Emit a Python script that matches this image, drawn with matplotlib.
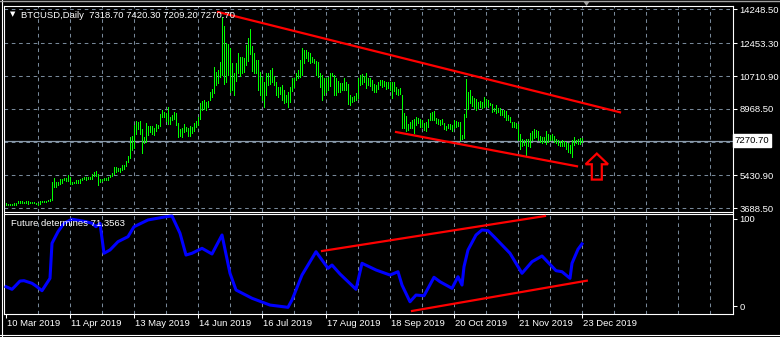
import numpy as np
import pandas as pd
import matplotlib
matplotlib.use("Agg")
import matplotlib.pyplot as plt
from matplotlib.patches import Polygon
from matplotlib.lines import Line2D
from matplotlib.transforms import blended_transform_factory, offset_copy

plt.rcParams['font.family'] = ['Liberation Sans', 'DejaVu Sans']

# daily highs / lows, 10 Mar 2019 .. 23 Dec 2019
mar_hi = [3950, 3930, 3940, 3920, 3960, 3990, 4080, 4060, 4050, 4040, 4080, 4090, 4020, 4010, 4020, 3990, 3980, 4100, 4080, 4070, 4100, 4110]
mar_lo = [3870, 3850, 3850, 3850, 3860, 3880, 3960, 3980, 3970, 3980, 3970, 3930, 3950, 3960, 3950, 3900, 3880, 3920, 4000, 4000, 4030, 4050]
apr_hi = [4160, 5080, 5300, 5080, 5070, 5230, 5250, 5300, 5280, 5470, 5360, 5100, 5100, 5180, 5200, 5250, 5320, 5340, 5350, 5340, 5350, 5500, 5600, 5650, 5520, 5250, 5270, 5280, 5300, 5350]
apr_lo = [4100, 4130, 4800, 4820, 4920, 5000, 5050, 5180, 5150, 5150, 4970, 4980, 5050, 5030, 5030, 5030, 5180, 5240, 5200, 5260, 5250, 5260, 5380, 5420, 4950, 5080, 5150, 5200, 5180, 5200]
may_hi = [5450, 5560, 5900, 5900, 5830, 5830, 6000, 6000, 6200, 6450, 7450, 7550, 8100, 8300, 8250, 8300, 7900, 7500, 8200, 8050, 8050, 8050, 7950, 8150, 8100, 8700, 8900, 8800, 8750, 9050, 8550]
may_lo = [5340, 5380, 5500, 5600, 5650, 5600, 5720, 5750, 5950, 6150, 6350, 6800, 6900, 7650, 7900, 7650, 6600, 7150, 7200, 7600, 7750, 7650, 7600, 7800, 7950, 8050, 8550, 8550, 8350, 8150, 8150]
jun_hi = [8650, 8800, 8750, 8200, 7900, 7950, 8150, 8000, 7950, 8050, 8000, 8200, 8300, 8550, 9300, 9400, 9450, 9350, 9400, 9850, 10000, 11180, 10950, 11050, 11450, 13850, 13350, 12450, 12400, 12200]
jun_lo = [8400, 8450, 8100, 7500, 7550, 7500, 7750, 7800, 7550, 7550, 7700, 7800, 8000, 8100, 8450, 8900, 8950, 8900, 9050, 9450, 9600, 9800, 10250, 10350, 10650, 10750, 10300, 10400, 10750, 9850]
jul_hi = [11400, 10900, 11400, 11950, 11700, 11700, 11650, 12350, 12750, 13200, 12300, 11950, 11550, 11550, 10950, 10650, 10380, 10900, 10900, 11050, 11150, 10700, 10380, 10120, 10120, 10220, 9960, 9690, 9850, 10120, 10600]
jul_lo = [9950, 9700, 10450, 10850, 10700, 10850, 10950, 11300, 11500, 11900, 11000, 10850, 10850, 9950, 9690, 9420, 9060, 9690, 10220, 10300, 10380, 10220, 9690, 9590, 9750, 9450, 9270, 9320, 9050, 9320, 9900]
aug_hi = [10600, 10900, 11050, 11550, 12200, 12100, 12100, 12000, 11950, 11700, 11600, 11500, 11450, 10900, 10750, 10600, 10600, 10650, 10900, 10900, 10750, 10600, 10450, 10350, 10350, 10600, 10400, 10300, 9700, 9600, 9650]
aug_lo = [10120, 10490, 10600, 10650, 10750, 11400, 11650, 11500, 11400, 11480, 11400, 10750, 10650, 10120, 9420, 9700, 9850, 9950, 10200, 10700, 9700, 9690, 9850, 9850, 9950, 9950, 9960, 9250, 9200, 9330, 9400]
sep_hi = [9800, 10600, 10750, 10800, 10700, 10860, 10600, 10600, 10490, 10300, 10220, 10400, 10500, 10500, 10450, 10380, 10380, 10380, 10380, 10420, 10150, 10000, 10060, 9700, 8750, 8600, 8150, 8250, 8360, 8450]
sep_lo = [9450, 9530, 10220, 10300, 10380, 10060, 10220, 10170, 9960, 9850, 9850, 10000, 10220, 10120, 10170, 10000, 10060, 9960, 9530, 9900, 9750, 9690, 9750, 7950, 7950, 7800, 7830, 7940, 7950, 7680]
oct_hi = [8520, 8470, 8420, 8360, 8200, 8250, 8420, 8740, 8800, 8840, 8500, 8450, 8400, 8450, 8230, 8080, 8170, 8150, 8100, 8360, 8350, 8250, 8250, 7560, 8720, 10540, 9850, 9950, 9640, 9570, 9480]
oct_lo = [8100, 8200, 7990, 7990, 7830, 7780, 7990, 8360, 8360, 8360, 8200, 8150, 8100, 8150, 7880, 7830, 7930, 7880, 7780, 7940, 8000, 8050, 7300, 7360, 7420, 8520, 8950, 9270, 9110, 9000, 8900]
nov_hi = [9320, 9370, 9320, 9580, 9480, 9430, 9260, 9210, 9000, 9160, 9000, 9000, 8900, 8890, 8840, 8630, 8520, 8250, 8250, 8200, 8150, 7620, 7370, 7300, 7360, 7360, 7680, 7780, 7890, 7830]
nov_lo = [9000, 9050, 9000, 9050, 9100, 9050, 9150, 8790, 8840, 8740, 8800, 8640, 8640, 8520, 8360, 8380, 8250, 7990, 7990, 7940, 7300, 6820, 7000, 7050, 6530, 6990, 6930, 7300, 7400, 7460]
dec_hi = [7800, 7520, 7480, 7500, 7780, 7650, 7600, 7650, 7550, 7350, 7300, 7250, 7300, 7250, 7200, 7140, 7050, 7300, 7460, 7300, 7350, 7400, 7420.3]
dec_lo = [7300, 7200, 7170, 7190, 7090, 7200, 7320, 7300, 7190, 7140, 7040, 7000, 7010, 7000, 6850, 6700, 6600, 6400, 7040, 7150, 7100, 7130, 7209.2]

highs = np.array(mar_hi + apr_hi + may_hi + jun_hi + jul_hi + aug_hi + sep_hi + oct_hi + nov_hi + dec_hi)
lows = np.array(mar_lo + apr_lo + may_lo + jun_lo + jul_lo + aug_lo + sep_lo + oct_lo + nov_lo + dec_lo)
days = np.arange(len(highs))
last_price = 7270.70

# indicator "Future determines" (day index, value)
ind_day = [0, 3, 4, 7, 9, 13, 15, 18, 22, 23, 26, 29, 33, 40, 43, 45, 47, 49, 52, 56,
           61, 64, 71, 80, 83, 87, 90, 93, 98, 103, 108, 112, 115, 123, 132, 141, 143, 148, 155, 161,
           163, 167, 175, 178, 185, 192, 196, 198, 202, 205, 209, 214, 217, 223, 226, 228, 229, 231, 235, 238,
           241, 244, 252, 258, 263, 268, 275, 278, 282, 283, 286, 288]
ind_val = [22.2, 19.2, 21.5, 28.7, 29.1, 26.1, 23.0, 17.6, 31.8, 72.1, 85.4, 95.1, 99.7, 96.9, 95.1, 91.1, 95.1, 60.6, 64.4, 73.9,
           79.7, 91.1, 98.9, 102.6, 103.4, 83.6, 58.6, 60.6, 66.3, 59.8, 81.6, 37.6, 18.4, 8.9, 1.1, -1.5, 6.9, 35.6, 62.4, 43.3,
           47.1, 36.8, 19.2, 49.1, 41.4, 35.6, 39.4, 24.1, 4.9, 12.6, 11.8, 33.0, 27.9, 20.3, 33.7, 24.1, 45.2, 64.4, 81.6, 87.4,
           86.6, 79.7, 60.6, 37.6, 50.9, 57.5, 40.6, 39.4, 31.8, 49.1, 65.2, 71.4]

# trend lines drawn on the chart
main_upper_day, main_upper_px = [106, 307], [14116, 8788]
main_lower_day, main_lower_px = [195, 285.5], [7741, 5920]
ind_upper_day, ind_upper_val = [158, 269.5], [63.2, 103.4]
ind_lower_day, ind_lower_val = [203, 290.4], [-5.7, 29.1]
arrow_day, arrow_tip, arrow_neck, arrow_base = 295.4, 6594, 6026, 5213

price_ticks = [14248.50, 12453.30, 10710.90, 8968.50, 5430.90, 3688.50]
price_grid = [14248.50, 12453.30, 10710.90, 8968.50, 7199.70, 5430.90, 3688.50]
start = pd.Timestamp("2019-03-10")
label_days = list(range(0, 289, 32))
date_labels = [(start + pd.Timedelta(days=d)).strftime("%d %b %Y") for d in label_days]

W, H = 780, 337
GRID = '#778899'
FS = 6.8
fig = plt.figure(figsize=(W / 100, H / 100), dpi=100, facecolor='black')

def fx(px):
    return px / W

def fy(py):
    return 1 - py / H

ax = fig.add_axes([fx(4), fy(211.5), fx(733 - 4), (211.5 - 6) / H])
ai = fig.add_axes([fx(4), fy(313.5), fx(733 - 4), (313.5 - 213.5) / H])

for a in (ax, ai):
    a.set_facecolor('black')
    a.set_xlim(-1, 363.5)
    for s in a.spines.values():
        s.set_color('white')
        s.set_linewidth(0.8)
    for d in range(16, 364, 16):
        a.axvline(d, color=GRID, lw=0.75, dashes=(3.5, 3.5), zorder=0)
    a.yaxis.tick_right()
    a.tick_params(axis='y', colors='white', length=3, width=0.75, pad=1.5, labelsize=FS)

# main panel
ax.set_ylim(3518, 14434)
for p in price_grid:
    ax.axhline(p, color=GRID, lw=0.75, dashes=(3.5, 3.5), zorder=0)
ax.axhline(last_price, color='#8a9aaa', lw=0.9, zorder=1)
ax.vlines(days, lows, highs, colors='#00ff00', lw=0.72, antialiased=False, zorder=3)
ax.plot(main_upper_day, main_upper_px, color='red', lw=1.6, zorder=4)
ax.plot(main_lower_day, main_lower_px, color='red', lw=1.6, zorder=4)
head_w, shaft_w = 5.6, 2.5
arrow = Polygon([(arrow_day, arrow_tip), (arrow_day + head_w, arrow_neck), (arrow_day + shaft_w, arrow_neck),
                 (arrow_day + shaft_w, arrow_base), (arrow_day - shaft_w, arrow_base),
                 (arrow_day - shaft_w, arrow_neck), (arrow_day - head_w, arrow_neck)],
                closed=True, fill=False, edgecolor='red', lw=1.6, joinstyle='miter', zorder=4)
ax.add_patch(arrow)
ax.set_yticks(price_ticks)
ax.set_yticklabels([f"{p:.2f}" for p in price_ticks])
ax.set_xticks([])
tr = blended_transform_factory(ax.transAxes, ax.transData)
ax.text(1.0025, last_price, f"{last_price:.2f}", transform=tr, color='black', fontsize=FS,
        va='center', ha='left', bbox=dict(boxstyle='square,pad=0.2', fc='white', ec='white'))

# indicator panel
ai.set_ylim(-8.6, 106.3)
ai.plot(ind_day, ind_val, color='#0000ff', lw=2.2, solid_joinstyle='round', zorder=3)
ai.plot(ind_upper_day, ind_upper_val, color='red', lw=1.6, zorder=4)
ai.plot(ind_lower_day, ind_lower_val, color='red', lw=1.6, zorder=4)
ai.set_yticks([100, 0])
ai.set_yticklabels(['100', '0'])
ai.set_xticks(label_days)
ai.tick_params(axis='x', colors='white', length=3, width=0.75, direction='out', labelbottom=False)
ltr = offset_copy(blended_transform_factory(ai.transData, ai.transAxes), fig=fig, x=1, y=-9.5, units='dots')
for d, lab in zip(label_days, date_labels):
    ai.text(d, 0, lab, transform=ltr, color='white', fontsize=FS, ha='left', va='center')

# header texts
fig.text(fx(10), fy(14), '\u25bc', color='white', fontsize=5, va='center', ha='left', family=['DejaVu Sans'])
fig.text(fx(21), fy(15), 'BTCUSD,Daily  7318.70 7420.30 7209.20 7270.70', color='white', fontsize=FS, va='center')
fig.text(fx(11), fy(223.5), 'Future determines 71.3563', color='white', fontsize=FS, va='center')

# window frame
fig.add_artist(Line2D([fx(1.5), fx(1.5)], [0, 1], color='white', lw=0.8))
fig.add_artist(Line2D([0, 1], [fy(335), fy(335)], color='white', lw=0.8))
fig.add_artist(Line2D([0, 1], [fy(0.5), fy(0.5)], color='#a0a0a0', lw=1))
fig.add_artist(Polygon([(fx(583), fy(1)), (fx(590), fy(1)), (fx(586.5), fy(6))], closed=True,
                       transform=fig.transFigure, fc='#a0a0a0', ec='none'))

fig.savefig('out.png', dpi=100, facecolor='black')
